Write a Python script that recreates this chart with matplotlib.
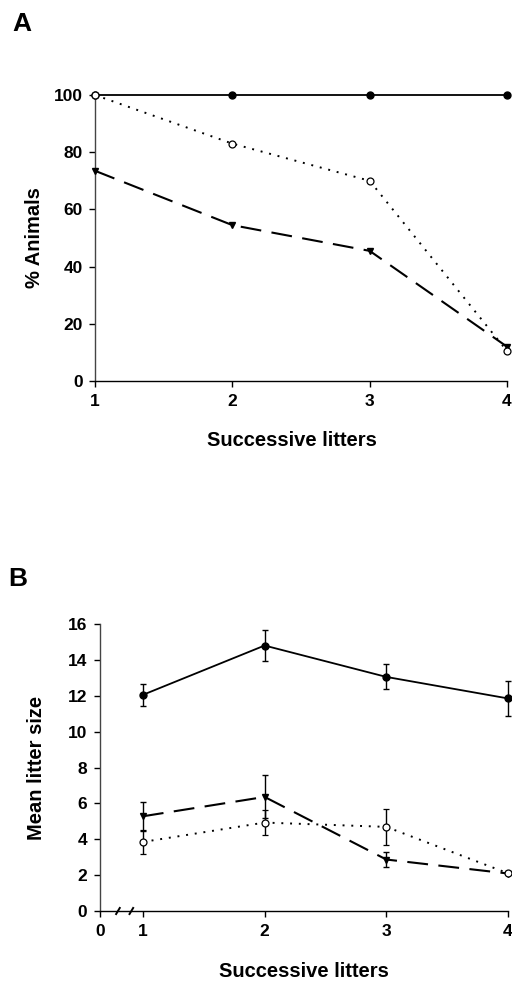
import matplotlib
matplotlib.use("Agg")
import matplotlib.pyplot as plt
import numpy as np

plt.rcParams['font.family'] = ['Liberation Sans', 'DejaVu Sans']

# ---- Data ----
litters = [1, 2, 3, 4]

# Panel A: % animals
a_solid = [100, 100, 100, 100]
a_dotted = [100, 83, 70, 10.5]
a_dashed = [73.5, 54.5, 45.5, 12]

# Panel B: mean litter size
b_solid = [12.05, 14.8, 13.05, 11.85]
b_solid_err = [0.6, 0.85, 0.7, 1.0]
b_dashed = [5.28, 6.36, 2.87, 2.09]
b_dashed_err = [0.8, 1.2, 0.4, 0.0]
b_dotted = [3.85, 4.93, 4.69, 2.1]
b_dotted_err = [0.69, 0.71, 1.0, 0.0]

a_yticks = [0, 20, 40, 60, 80, 100]
b_yticks = [0, 2, 4, 6, 8, 10, 12, 14, 16]
b_xtick_labels = ['0', '1', '2', '3', '4']

# ---- Figure ----
W, H = 512, 982
fig = plt.figure(figsize=(W / 100, H / 100), dpi=100)

def frac(l, r, t, b):
    return [l / W, 1 - b / H, (r - l) / W, (b - t) / H]

axA = fig.add_axes(frac(95, 507, 95, 381))
axB = fig.add_axes(frac(100, 508, 624, 911))

dotted = (0, (1, 3.5))
dashed = (0, (10, 5))

for ax in (axA, axB):
    for s in ('top', 'right'):
        ax.spines[s].set_visible(False)
    ax.spines['left'].set_linewidth(1.0)
    ax.spines['left'].set_color('#444444')
    ax.spines['bottom'].set_linewidth(1.0)
    ax.tick_params(direction='out', length=4, width=1.0, labelsize=12.5, pad=5)
    ax.set_facecolor('white')

# Panel A
axA.plot(litters, a_solid, color='black', lw=1.3, marker='o', ms=5, mfc='black', mec='black', clip_on=False, zorder=3)
axA.plot(litters, a_dotted, color='black', lw=1.4, ls=dotted, marker='o', ms=5, mfc='white', mec='black', mew=0.9, clip_on=False, zorder=4)
axA.plot(litters, a_dashed, color='black', lw=1.5, ls=dashed, marker='v', ms=4.5, mfc='black', mec='black', clip_on=False, zorder=3)
axA.set_xlim(1, 4)
axA.set_ylim(0, 100)
axA.set_xticks(litters)
axA.set_yticks(a_yticks)
axA.set_ylabel('% Animals', fontsize=14.5, fontweight='bold')
axA.yaxis.set_label_coords(-0.124, 0.5)
axA.set_xlabel('Successive litters', fontsize=14.5, fontweight='bold')
axA.xaxis.set_label_coords(0.478, -0.175)

# Panel B
x0 = 1 - 43 / 122.0
ekw = dict(ecolor='black', elinewidth=1.0, capsize=2.5, capthick=1.0)
axB.errorbar(litters, b_solid, yerr=b_solid_err, color='black', lw=1.3, marker='o', ms=5,
             mfc='black', mec='black', clip_on=False, zorder=3, **ekw)
axB.errorbar(litters, b_dashed, yerr=b_dashed_err, color='black', lw=1.5, ls=dashed, marker='v', ms=4.5,
             mfc='black', mec='black', clip_on=False, zorder=3, **ekw)
axB.errorbar(litters, b_dotted, yerr=b_dotted_err, color='black', lw=1.4, ls=dotted, marker='o', ms=5,
             mfc='white', mec='black', mew=0.9, clip_on=False, zorder=4, **ekw)
axB.set_xlim(x0, 4)
axB.set_ylim(0, 16)
axB.set_xticks([x0] + litters)
axB.set_xticklabels(b_xtick_labels)
axB.set_yticks(b_yticks)
for lab in axB.get_xticklabels() + axB.get_yticklabels() + axA.get_xticklabels() + axA.get_yticklabels():
    lab.set_fontweight('bold')
axB.set_ylabel('Mean litter size', fontsize=14.5, fontweight='bold')
axB.yaxis.set_label_coords(-0.132, 0.5)
axB.set_xlabel('Successive litters', fontsize=14.5, fontweight='bold')
axB.xaxis.set_label_coords(0.50, -0.178)

# axis break marks
for xb in (0.795, 0.905):
    axB.plot([xb - 0.015, xb + 0.015], [-0.17, 0.17], color='black', lw=1.4, clip_on=False, zorder=5)

fig.text(22 / W, 1 - 24 / H, 'A', fontsize=19, fontweight='bold', ha='center', va='center')
fig.text(18 / W, 1 - 579 / H, 'B', fontsize=19, fontweight='bold', ha='center', va='center')

fig.savefig('out.png', dpi=100, facecolor='white')
